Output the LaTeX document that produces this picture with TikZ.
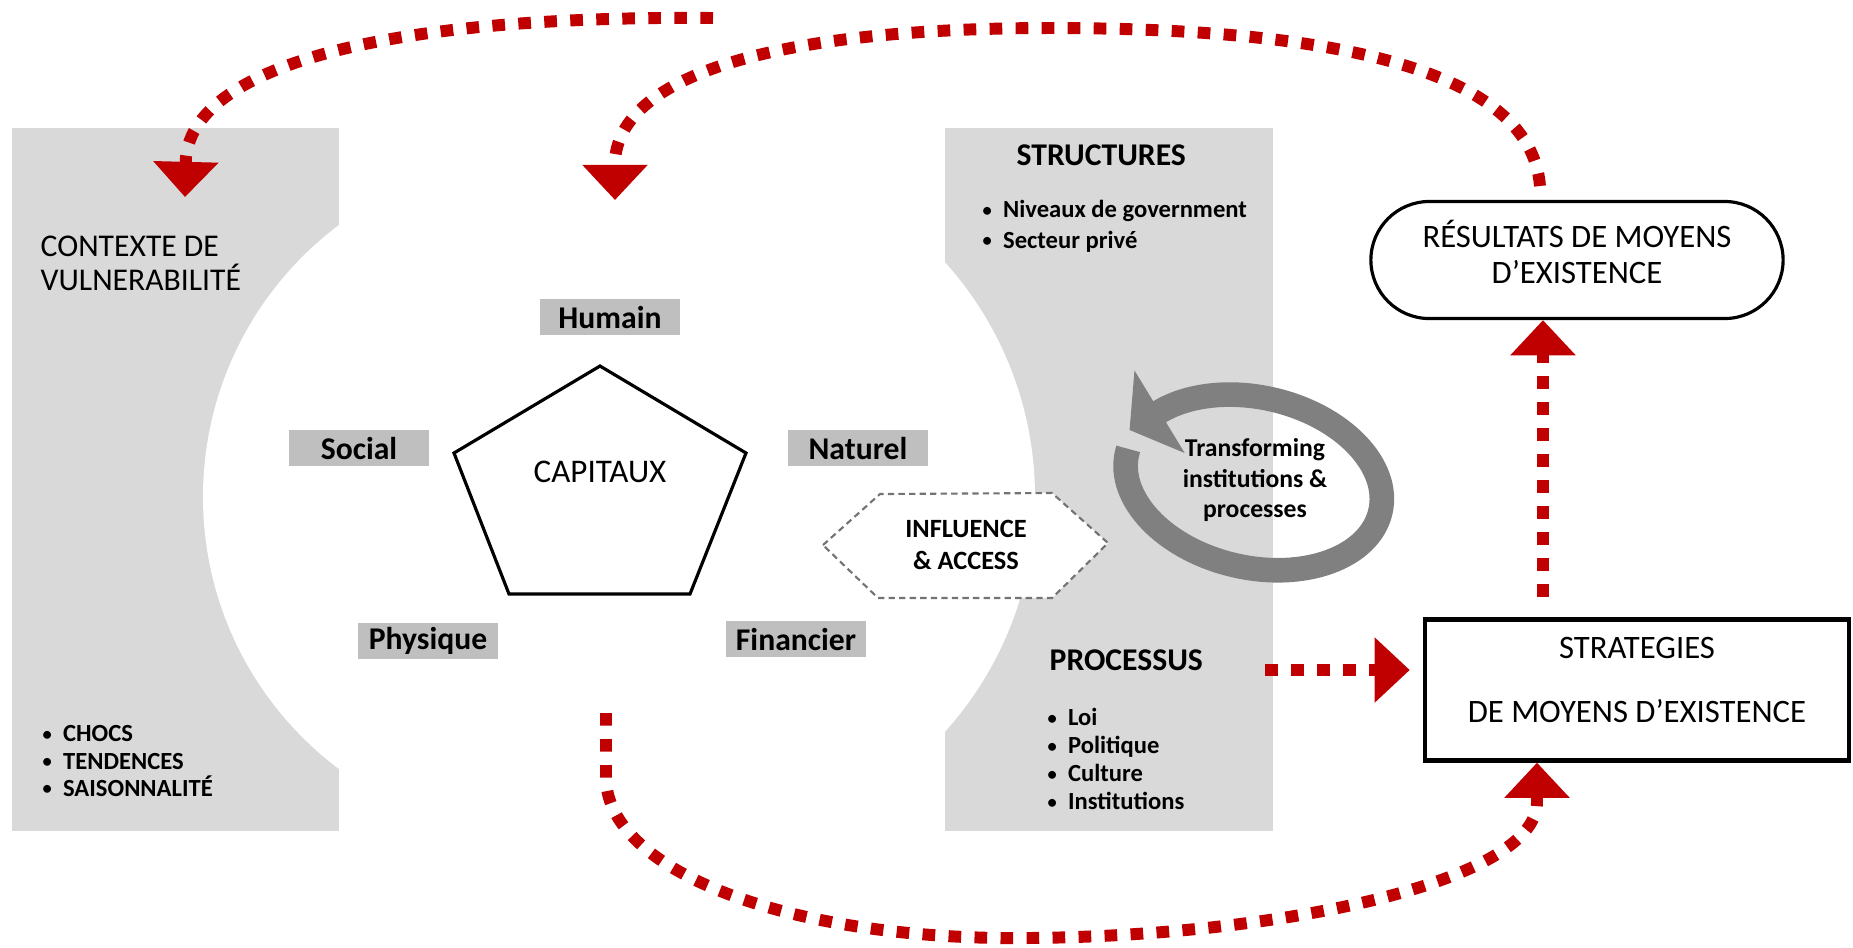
\documentclass[tikz,border=0pt]{standalone}
\usepackage{graphicx}
\usepackage{fontspec}
\setmainfont{Carlito}
\usetikzlibrary{arrows.meta,calc,positioning}

\definecolor{panelgray}{HTML}{D9D9D9}
\definecolor{capgray}{HTML}{BFBFBF}
\definecolor{turngray}{HTML}{808080}
\definecolor{dotred}{HTML}{C00000}
\newcommand{\bul}{\raisebox{0.1ex}{\scalebox{0.75}{\textbullet}}\hspace{3.2pt}}

\begin{document}
\begin{tikzpicture}[x=0.01cm, y=-0.01cm, >={Triangle[width=18pt,length=10pt]},
  hdr/.style={font=\fontsize{9}{10}\selectfont, inner sep=0pt},
  boldhdr/.style={font=\fontsize{9}{10}\selectfont\bfseries, anchor=west, inner sep=0pt},
  listtxt/.style={font=\fontsize{7}{8}\selectfont\bfseries, align=left, anchor=west, inner sep=0pt},
  capbox/.style={fill=capgray, minimum width=1.4cm, minimum height=0.36cm, inner sep=0pt, font=\fontsize{9}{10}\selectfont\bfseries},
  reddot/.style={draw=dotred, line width=3.4pt, dash pattern=on 3.6pt off 3.8pt, ->},
  ]
  \useasboundingbox (0,0) rectangle (1853,947);

  % Panels
  \fill[panelgray] (12,128) rectangle (339,831);
  \fill[panelgray] (945,128) rectangle (1273,831);
  \fill[white] (543,497) circle[radius=340];
  \fill[white] (684,497) circle[radius=351];

  % Vulnerability context
  \node[hdr, anchor=west, align=left, font=\fontsize{9}{9.7}\selectfont] (ctx) at (40,263) {CONTEXTE DE\\VULNERABILITÉ};
  \node[listtxt, font=\fontsize{7}{7.7}\selectfont\bfseries] (shocks) at (42,761) {\bul CHOCS\\\bul TENDENCES\\\bul SAISONNALITÉ};

  % Capitals
  \draw[line width=0.9pt] (600,366) -- (746,453) -- (690,594) -- (509,594) -- (454,453) -- cycle;
  \node[hdr, font=\fontsize{9.4}{10}\selectfont] (capitaux) at (600,472) {CAPITAUX};
  \node[capbox] (hum) at (610,317) {Humain};
  \node[capbox] (soc) at (359,448) {Social};
  \node[capbox] (nat) at (858,448) {Naturel};
  \node[capbox] (phy) at (428,641) {Physique};
  \node[capbox] (fin) at (796,639) {Financier};

  % Structures and processes
  \node[boldhdr] (struct) at (1016,155) {STRUCTURES};
  \node[listtxt, font=\fontsize{7}{8.8}\selectfont\bfseries] (structlist) at (982,226) {\bul Niveaux de government\\\bul Secteur privé};
  \node[boldhdr] (proc) at (1049,660) {PROCESSUS};
  \node[listtxt] (proclist) at (1047,759) {\bul Loi\\\bul Politique\\\bul Culture\\\bul Institutions};

  % Influence
  \draw[black!55, line width=0.6pt, dash pattern=on 1.8pt off 1.2pt, fill=white] (823,545) -- (880,494) -- (1052,493) -- (1108,543) -- (1052,598) -- (878,598) -- cycle;
  \node[align=center, font=\fontsize{7.5}{9.1}\selectfont\bfseries] (infl) at (966,545) {INFLUENCE\\\& ACCESS};

  % Transforming loop
  \draw[turngray, line width=7pt, -{Triangle[width=27pt,length=10pt]}, rotate around={-13:(1254,482)}] (1124,478) arc[start angle=183, end angle=-146, x radius=130, y radius=85] -- ++(-25,24.4);
  \node[align=center, font=\fontsize{7.3}{8.8}\selectfont\bfseries] (trans) at (1255,480) {Transforming\\institutions \&\\processes};

  % Outcomes and strategies
  \node[draw, line width=0.9pt, rounded corners=0.585cm, minimum width=4.12cm, minimum height=1.17cm] (res) at (1577,260) {};
  \node[align=center, font=\fontsize{9.3}{10.4}\selectfont] (restxt) at (1577,252) {RÉSULTATS DE MOYENS\\D’EXISTENCE};
  \node[draw, line width=1.2pt, minimum width=4.24cm, minimum height=1.41cm] (strat) at (1637,690) {};
  \node[align=center, font=\fontsize{9.3}{10}\selectfont] (strattxt) at (1637,680) {STRATEGIES\\[8pt]DE MOYENS D’EXISTENCE};

  % Red arrows
  \coordinate (topmid) at (713,18);
  \coordinate (ctxin) at (185,197);
  \coordinate (resout) at (1540,186);
  \coordinate (capin) at (615,200);
  \coordinate (capout) at (606,713);
  \coordinate (stratin) at ($(strat.south)+(-100,0)$);
  \coordinate (stratout) at (1543,597);
  \coordinate (procout) at (1265,670);

  \draw[reddot] (topmid) .. controls (400,15) and (196,62) .. (186,157) -- (ctxin);
  \draw[reddot] (resout) .. controls (1530,60) and (1300,28) .. (1050,28) .. controls (800,28) and (622,68) .. (615,160) -- (capin);
  \draw[reddot] (capout) -- (606,780) .. controls (610,870) and (780,935) .. (1000,938) .. controls (1260,940) and (1535,885) .. (1537,803) -- (stratin);
  \draw[reddot] (stratout) -- (stratout |- res.south);
  \draw[reddot, shorten >=0.13cm] (procout) -- (procout -| strat.west);
\end{tikzpicture}
\end{document}
